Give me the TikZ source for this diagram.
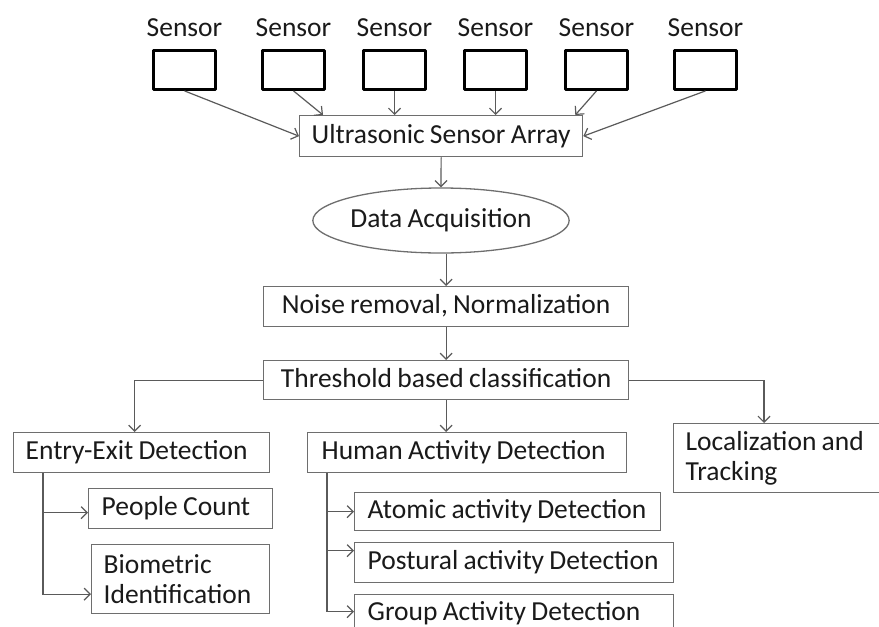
\documentclass[tikz,border=0pt]{standalone}
\usepackage{fontspec}
\setmainfont[WordSpace=0.85]{Carlito}
\usetikzlibrary{shapes.geometric,arrows.meta,calc}
\definecolor{bgray}{HTML}{6E6E6E}
\definecolor{cgray}{HTML}{5A5A5A}
\definecolor{txt}{HTML}{1A1A1A}
\newcommand{\diagfont}{\fontsize{27.5}{30.5}\selectfont}
\newcommand{\nsp}{\spaceskip=0pt\xspaceskip=0pt\relax}
\begin{document}
\begin{tikzpicture}[x=1pt,y=-1pt,
  conn/.style={draw=cgray,line width=1.2pt,-{Straight Barb[length=6pt,width=12pt]}},
  bxbase/.style={draw=bgray,line width=1.3pt,fill=white,inner xsep=12pt,inner ysep=0pt,anchor=north west,align=flush left,text=txt,font=\diagfont},
  bx/.style={bxbase,text height=19pt,text depth=5pt},
  bx2/.style={bxbase},
  cbx/.style={bx,align=flush center,inner xsep=0pt},
  sensorbox/.style={draw=black,line width=2.8pt,line join=round,minimum width=62pt,minimum height=39pt,inner sep=0pt},
  lbl/.style={text=txt,font=\diagfont,anchor=base,inner sep=0pt},
]
\useasboundingbox (0,0) rectangle (879,627);

% sensors
\foreach \i/\cx in {1/184.5,2/293.5,3/394.5,4/495.5,5/596.5,6/705.5}{
  \node[sensorbox] (s\i) at (\cx,70) {};
  \node[lbl] (t\i) at (\cx,36) {Sensor};
}

\node[cbx,minimum width=283pt,minimum height=41pt,text width=283pt] (ultra) at (299,115) {\nsp\mbox{Ultrasonic Sensor Array}};
\node[draw=bgray,line width=1.3pt,ellipse,minimum width=228pt,minimum height=65pt,inner sep=0pt,text=txt,font=\diagfont] (ell) at (441,220.5) {Data Acquisition};
\node[cbx,minimum width=365pt,minimum height=40pt,text width=365pt] (noise) at (263,286) {\nsp\mbox{Noise removal, Normalization}};
\node[cbx,minimum width=365pt,minimum height=39pt,text width=365pt] (thr) at (263,360) {\nsp\mbox{Threshold based classification}};

\node[bx,minimum width=256pt,minimum height=40pt,text width=232pt] (entry) at (13,432) {\nsp\mbox{Entry-Exit Detection}};
\node[bx,inner xsep=13pt,minimum width=184pt,minimum height=40pt,text width=158pt] (people) at (88,488) {\nsp\mbox{People Count}};
\node[bx2,minimum width=178pt,minimum height=69pt,text width=154pt] (bio) at (91,544) {\nsp Biometric\\Identification};

\node[bx,inner xsep=14pt,minimum width=319pt,minimum height=40pt,text width=291pt] (human) at (307,432) {\nsp\mbox{Human Activity Detection}};
\node[bx,inner xsep=13pt,minimum width=306pt,minimum height=38pt,text width=280pt] (atomic) at (354,492) {\nsp\mbox{Atomic activity Detection}};
\node[bx,inner xsep=13pt,minimum width=319pt,minimum height=40pt,text width=293pt] (postural) at (354,542) {\nsp\mbox{Postural activity Detection}};
\node[bx,inner xsep=13pt,minimum width=319pt,minimum height=38pt,text width=293pt] (group) at (354,594) {\nsp\mbox{Group Activity Detection}};
\draw[draw=bgray,line width=1.3pt] (group.south west) -- ++(0,12) (group.south east) -- ++(0,12);

\node[bx2,minimum width=206pt,minimum height=69pt,text width=182pt] (loc) at (673,423) {\nsp Localization and\\Tracking};

% connectors: sensors to array
\draw[conn] (s1.south) -- (ultra.west);
\draw[conn] (s2.south) -- ($(ultra.north west)+(24,0)$);
\draw[conn] (s3.south) -- (s3.south |- ultra.north);
\draw[conn] (s4.south) -- (s4.south |- ultra.north);
\draw[conn] (s5.south) -- ($(ultra.north east)+(-8,0)$);
\draw[conn] (s6.south) -- (ultra.east);

% main chain
\draw[conn] (ultra.south) -- (ell.north);
\draw[conn] (noise.north |- ell.south) -- (noise.north);
\draw[conn] (noise.south) -- (thr.north);

% classification branches
\draw[conn] (thr.west) -| ($(entry.north)+(-7,0)$);
\draw[conn] (thr.south) -- (thr.south |- human.north);
\draw[conn] (thr.east) -| ($(loc.north west)+(91,0)$);

% entry-exit sub-branches
\coordinate (ev) at ($(entry.south west)+(30,0)$);
\coordinate (pIn) at ($(people.west)+(0,4)$);
\coordinate (bIn) at ($(bio.west)+(0,15)$);
\draw[conn] (ev) |- (bIn);
\draw[conn] (ev |- pIn) -- (pIn);

% human activity sub-branches
\coordinate (hv) at ($(human.south west)+(20,0)$);
\coordinate (gIn) at ($(group.west)+(0,-2)$);
\coordinate (qIn) at ($(postural.west)+(0,-12)$);
\draw[conn] (hv) |- (gIn);
\draw[conn] (hv |- atomic.west) -- (atomic.west);
\draw[conn] (hv |- qIn) -- (qIn);
\end{tikzpicture}
\end{document}
